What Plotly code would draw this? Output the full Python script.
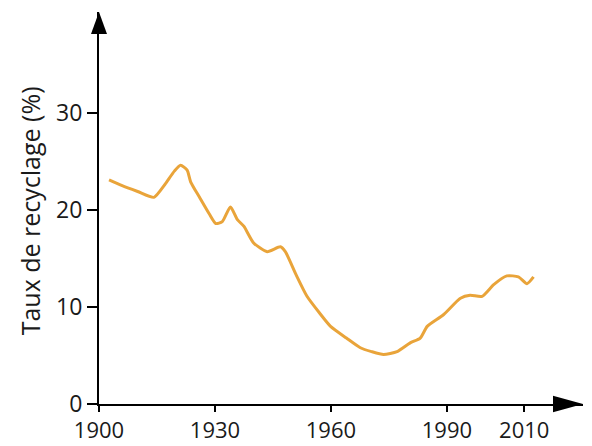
import plotly.graph_objects as go

years = [1902.6, 1906, 1910, 1914.2, 1917, 1919.5, 1921.1, 1922.8, 1923.7, 1926, 1928.5, 1930.2, 1931.9, 1934,
         1935.8, 1937.5, 1940, 1943.5, 1946.9, 1948.2, 1951, 1953.8, 1957, 1959.9, 1964, 1967.6, 1970.5,
         1973.6, 1977.1, 1980.5, 1983.1, 1984.9, 1989.1, 1993.5, 1996, 1999.1, 2002.1, 2005.5, 2008.5,
         2010.7, 2012.4]
rates = [23.1, 22.5, 21.9, 21.3, 22.6, 24.0, 24.6, 24.1, 22.9, 21.3, 19.6, 18.6, 18.8, 20.3,
         19.0, 18.3, 16.6, 15.7, 16.2, 15.7, 13.3, 11.1, 9.4, 8.0, 6.8, 5.8, 5.4,
         5.1, 5.4, 6.3, 6.8, 8.0, 9.2, 10.9, 11.2, 11.1, 12.3, 13.2, 13.1, 12.4, 13.1]

x_ticks = [1900, 1930, 1960, 1990, 2010]
y_ticks = [0, 10, 20, 30]
y_title = "Taux de recyclage (%)"

FONT = "Open Sans"
fig = go.Figure()
fig.add_trace(go.Scatter(x=years, y=rates, mode="lines",
                         line=dict(color="#E9A43A", width=3, shape="spline", smoothing=0.6),
                         hoverinfo="skip", cliponaxis=False))

axis_common = dict(showgrid=False, zeroline=False, showline=True, linecolor="black", linewidth=2,
                   ticks="outside", tickwidth=2, tickcolor="black", automargin=False)
fig.update_layout(
    width=592, height=446,
    margin=dict(l=99, r=9, t=12, b=42),
    paper_bgcolor="white", plot_bgcolor="white",
    showlegend=False,
    xaxis=dict(range=[1900, 2025.2], tickvals=x_ticks, ticktext=[str(v) for v in x_ticks], ticklen=6,
               tickfont=dict(family=FONT, size=22, color="#1a1a1a"), **axis_common),
    yaxis=dict(range=[0, 40.4], tickvals=y_ticks, ticktext=[str(v) for v in y_ticks], ticklen=10,
               tickfont=dict(family=FONT, size=23, color="#1a1a1a"), **axis_common),
    annotations=[dict(text=y_title, xref="paper", yref="paper", x=-0.1426, y=0.494,
                      xanchor="center", yanchor="middle", textangle=-90, showarrow=False,
                      font=dict(family=FONT, size=25, color="#1a1a1a"))],
    shapes=[
        dict(type="path", xref="paper", yref="paper", layer="above",
             path="M 1.0,0 L 0.938,0.021 L 0.938,-0.021 Z", fillcolor="black", line=dict(width=0)),
        dict(type="path", xref="paper", yref="paper", layer="above",
             path="M 0,1.0 L -0.0165,0.944 L 0.0165,0.944 Z", fillcolor="black", line=dict(width=0)),
    ],
)
fig.write_html("out.html", config={"displayModeBar": False},
               post_script="document.body.style.margin='0';document.body.style.overflow='hidden';")
